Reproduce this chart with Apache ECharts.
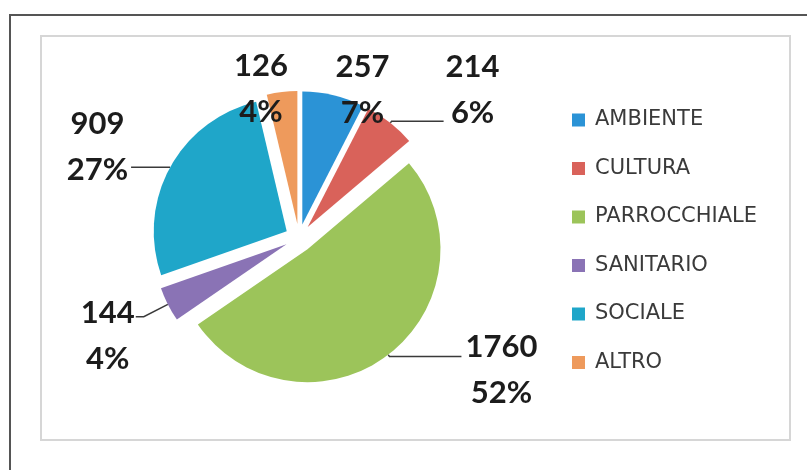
<!DOCTYPE html>
<html>
<head>
<meta charset="utf-8">
<script src="https://cdn.jsdelivr.net/npm/echarts@6/dist/echarts.min.js"></script>
<style>
html,body{margin:0;padding:0;background:#fff;}
#chart{width:807px;height:470px;}
</style>
</head>
<body>
<div id="chart"></div>
<script>
// ---- data ----
const categories = ['AMBIENTE', 'CULTURA', 'PARROCCHIALE', 'SANITARIO', 'SOCIALE', 'ALTRO'];
const values = [257, 214, 1760, 144, 909, 126];
const colors = ['#2b93d6', '#d9625a', '#9cc45a', '#8a73b5', '#1fa6c9', '#ee9a5c'];

// ---- per-slice label styling (leader line lengths, text gap, padding) ----
const labelTuning = [
  {line: false, length: 0,  length2: 0,  dist: 2,  padding: [0, 0, 10, 0]},
  {line: true,  length: 2,  length2: 52, dist: 2,  padding: [0, 0, 62, 0]},
  {line: true,  length: 2,  length2: 72, dist: 4,  padding: [28, 0, 0, 0]},
  {line: true,  length: 27, length2: 8,  dist: 1,  padding: [38, 0, 0, 0]},
  {line: true,  length: 0,  length2: 39, dist: 3,  padding: [0, 0, 40, 0]},
  {line: false, length: 0,  length2: 0,  dist: -6, padding: [0, 0, 6, 0]}
];

const chart = echarts.init(document.getElementById('chart'), null, {renderer: 'canvas'});

const pieData = categories.map((name, i) => {
  const t = labelTuning[i];
  return {
    name: name,
    value: values[i],
    selected: true,
    itemStyle: {color: colors[i]},
    label: {distanceToLabelLine: t.dist, padding: t.padding},
    labelLine: {show: t.line, length: t.length, length2: t.length2}
  };
});

const labelFont = {fontFamily: 'Lato', fontWeight: 'bold', fontSize: 31, lineHeight: 46, color: '#1c1c1c', align: 'center'};

chart.setOption({
  backgroundColor: '#ffffff',
  animation: false,
  graphic: [
    {type: 'rect', shape: {x: 10, y: 15, width: 830, height: 480}, style: {fill: 'none', stroke: '#555555', lineWidth: 2}, z: -1},
    {type: 'rect', shape: {x: 41, y: 36, width: 749, height: 404}, style: {fill: '#ffffff', stroke: '#d6d6d6', lineWidth: 2}, z: -2}
  ],
  legend: {
    orient: 'vertical',
    left: 572,
    top: 109,
    padding: 0,
    itemWidth: 13,
    itemHeight: 13,
    itemGap: 26.5,
    icon: 'rect',
    textStyle: {fontFamily: 'DejaVu Sans', fontSize: 21, color: '#3a3a3a', lineHeight: 22, padding: [0, 0, 0, 5]},
    data: categories
  },
  series: [{
    type: 'pie',
    center: [299, 238],
    radius: 133,
    startAngle: 90,
    clockwise: true,
    selectedMode: 'multiple',
    selectedOffset: 14,
    avoidLabelOverlap: false,
    percentPrecision: 0,
    data: pieData,
    label: {
      show: true,
      position: 'outside',
      alignTo: 'none',
      formatter: '{v|{c}}\n{v|{d}%}',
      fontFamily: 'Lato',
      fontWeight: 'bold',
      fontSize: 31,
      lineHeight: 46,
      color: '#1c1c1c',
      rich: {v: labelFont}
    },
    labelLine: {
      show: true,
      smooth: false,
      lineStyle: {color: '#3a3a3a', width: 1.5}
    },
    emphasis: {disabled: true}
  }]
});
</script>
</body>
</html>
